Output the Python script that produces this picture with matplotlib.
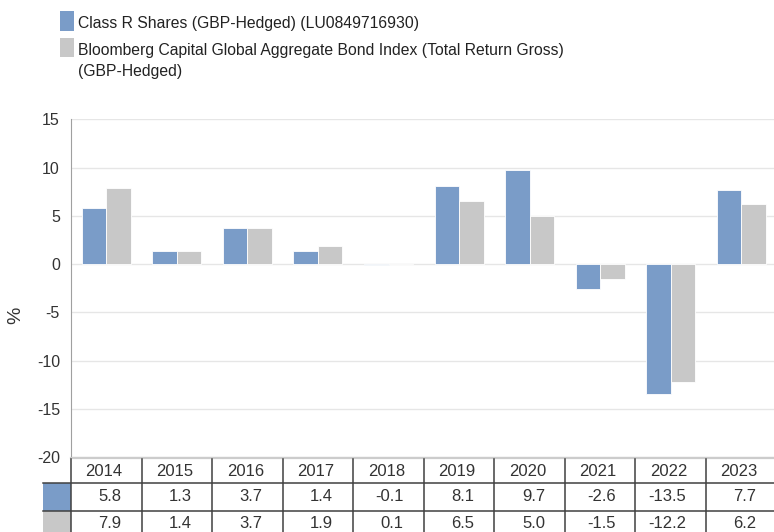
import matplotlib
matplotlib.use("Agg")
import matplotlib.pyplot as plt
from matplotlib.patches import Rectangle
import numpy as np

plt.rcParams['font.family'] = ['Liberation Sans', 'DejaVu Sans']

years = ["2014", "2015", "2016", "2017", "2018", "2019", "2020", "2021", "2022", "2023"]
fund = [5.8, 1.3, 3.7, 1.4, -0.1, 8.1, 9.7, -2.6, -13.5, 7.7]
index = [7.9, 1.4, 3.7, 1.9, 0.1, 6.5, 5.0, -1.5, -12.2, 6.2]
fund_label = "Class R Shares (GBP-Hedged) (LU0849716930)"
index_label_lines = ["Bloomberg Capital Global Aggregate Bond Index (Total Return Gross)",
                     "(GBP-Hedged)"]
yticks = [-20, -15, -10, -5, 0, 5, 10, 15]

BLUE = "#7a9cc8"
GREY = "#c8c8c8"
TXT = "#333333"
LINE = "#404040"

W, H = 774, 532
fig = plt.figure(figsize=(W / 100, H / 100), dpi=100)

def fx(px):
    return px / W

def fy(py):
    return 1 - py / H

ax_left, ax_right = 71, 776.6
ax_top, ax_bot = 119.3, 457
ax = fig.add_axes([fx(ax_left), fy(ax_bot), fx(ax_right - ax_left), (ax_bot - ax_top) / H])

x = np.arange(len(years))
bw = 0.347
ax.bar(x - bw / 2, fund, bw, color=BLUE, edgecolor="white", linewidth=0.6, zorder=3)
ax.bar(x + bw / 2, index, bw, color=GREY, edgecolor="white", linewidth=0.6, zorder=3)

ax.set_xlim(-0.5, len(years) - 0.5)
ax.set_ylim(-20, 15)
ax.set_yticks(yticks)
ax.set_yticklabels([str(v) for v in yticks])
ax.set_xticks([])
ax.tick_params(axis="y", length=0, pad=8, labelsize=11.5, labelcolor=TXT)
ax.grid(axis="y", color="#e6e6e6", linewidth=1, zorder=0)
for s in ["top", "right", "bottom"]:
    ax.spines[s].set_visible(False)
ax.spines["left"].set_color("#a0a0a0")
ax.spines["left"].set_linewidth(0.8)

fig.text(fx(16), fy(315), "%", rotation=90, ha="center", va="center", fontsize=14, color=TXT)

# ---- table ----
sw_left = 43
cat_px = (ax_right - ax_left) / len(years)
sw_units = (ax_left - sw_left) / cat_px
tab_bottom = 539
tax = fig.add_axes([fx(sw_left), fy(tab_bottom), fx(ax_right - sw_left), (tab_bottom - ax_bot) / H])
tax.set_xlim(-0.5 - sw_units, len(years) - 0.5)
tax.set_ylim(tab_bottom - ax_bot, 0)
tax.axis("off")

row_edges = [0, 26, 54, 82]
tax.plot([-0.5, len(years) - 0.5], [0.8, 0.8], color="#cccccc", lw=1.6, clip_on=False)
for yv in row_edges[1:3]:
    tax.plot([-0.5 - sw_units, len(years) - 0.5], [yv, yv], color=LINE, lw=1.1, clip_on=False)
for i in range(len(years)):
    tax.plot([i - 0.5, i - 0.5], [1.6, row_edges[-1]], color=LINE, lw=1.1, clip_on=False)
tax.add_patch(Rectangle((-0.5 - sw_units, row_edges[1]), sw_units, row_edges[2] - row_edges[1],
                        facecolor=BLUE, edgecolor="none", zorder=0))
tax.add_patch(Rectangle((-0.5 - sw_units, row_edges[2]), sw_units, row_edges[3] - row_edges[2],
                        facecolor=GREY, edgecolor="none", zorder=0))

pad_units = 20 / cat_px
for i, yr in enumerate(years):
    tax.text(i - 0.03, (row_edges[0] + row_edges[1]) / 2 + 1.5, yr, ha="center", va="center",
             fontsize=12, color=TXT)
    tax.text(i + 0.5 - pad_units, (row_edges[1] + row_edges[2]) / 2, f"{fund[i]:.1f}",
             ha="right", va="center", fontsize=12, color=TXT)
    tax.text(i + 0.5 - pad_units, (row_edges[2] + row_edges[3]) / 2 - 2, f"{index[i]:.1f}",
             ha="right", va="center", fontsize=12, color=TXT)

# ---- legend ----
leg_fs = 11.3
fig.add_artist(Rectangle((fx(60), fy(31)), fx(14), 20 / H, facecolor=BLUE, edgecolor="none",
                         transform=fig.transFigure))
fig.add_artist(Rectangle((fx(60), fy(57)), fx(14), 19 / H, facecolor=GREY, edgecolor="none",
                         transform=fig.transFigure))
fig.text(fx(78), fy(28), fund_label, ha="left", va="baseline", fontsize=leg_fs, color="#222222")
for k, line in enumerate(index_label_lines):
    fig.text(fx(78), fy(55 + 21 * k), line, ha="left", va="baseline", fontsize=leg_fs,
             color="#222222")

fig.savefig("out.png", dpi=100)
